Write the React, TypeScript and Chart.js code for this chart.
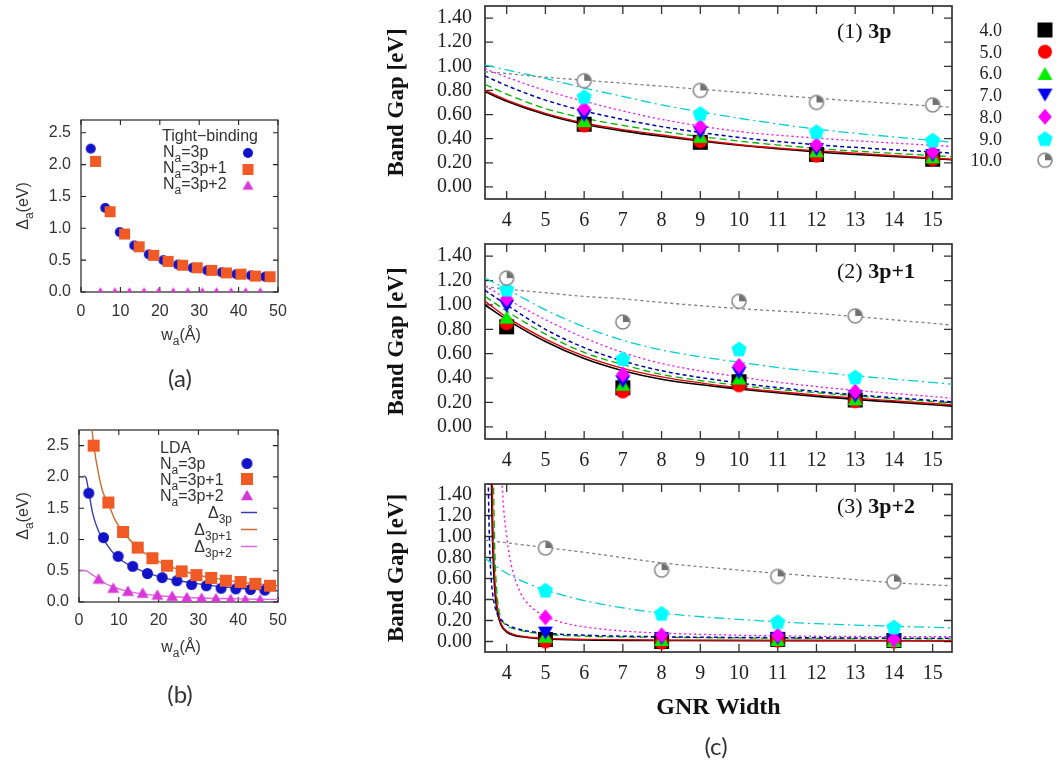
import React, { useEffect, useRef } from 'react';
import { Chart, registerables } from 'chart.js';

Chart.register(...registerables);

// ================= (a) Tight-binding =================
const A_W_3P = [2.46, 6.15, 9.84, 13.5, 17.2, 20.9, 24.6, 28.3, 32.0, 35.7, 39.4, 43.1, 46.7];
const A_GAP_3P = [2.25, 1.32, 0.94, 0.73, 0.59, 0.5, 0.43, 0.38, 0.34, 0.31, 0.28, 0.26, 0.24];
const A_W_3P1 = [3.69, 7.38, 11.07, 14.76, 18.45, 22.1, 25.8, 29.5, 33.2, 36.9, 40.6, 44.3, 48.0];
const A_GAP_3P1 = [2.05, 1.26, 0.91, 0.71, 0.575, 0.48, 0.42, 0.38, 0.34, 0.3, 0.28, 0.25, 0.24];
const A_W_3P2 = [4.92, 8.61, 12.3, 16.0, 19.7, 23.4, 27.1, 30.8, 34.4, 38.1, 41.8, 45.5];
const A_GAP_3P2 = [0, 0, 0, 0, 0, 0, 0, 0, 0, 0, 0, 0];

// ================= (b) LDA =================
const B_GAP_3P = [1.74, 1.03, 0.73, 0.57, 0.455, 0.39, 0.34, 0.28, 0.26, 0.22, 0.21, 0.2, 0.19];
const B_GAP_3P1 = [2.5, 1.59, 1.12, 0.87, 0.7, 0.58, 0.49, 0.43, 0.385, 0.34, 0.32, 0.29, 0.26];
const B_GAP_3P2 = [0.375, 0.23, 0.18, 0.15, 0.12, 0.1, 0.08, 0.07, 0.06, 0.05, 0.04, 0.04];
const B_FIT_W_3P = [1.2, 1.8, 2.46, 3.5, 5, 6.15, 8, 10, 13.5, 17, 21, 25, 30, 35, 40, 45, 50];
const B_FIT_3P = [2.02, 1.98, 1.76, 1.4, 1.12, 1.0, 0.83, 0.7, 0.56, 0.47, 0.39, 0.34, 0.29, 0.25, 0.22, 0.2, 0.18];
const B_FIT_W_3P1 = [3.1, 3.76, 5, 6, 7.38, 9, 11.07, 14.76, 18.45, 22, 26, 30, 35, 40, 45, 50];
const B_FIT_3P1 = [2.85, 2.48, 2.02, 1.76, 1.57, 1.32, 1.12, 0.87, 0.7, 0.59, 0.5, 0.43, 0.37, 0.32, 0.29, 0.26];
const B_FIT_W_3P2 = [0.4, 1.8, 3, 4.92, 6.5, 8.61, 12.3, 16, 20, 25, 30, 35, 40, 45, 50];
const B_FIT_3P2 = [0.51, 0.5, 0.45, 0.37, 0.3, 0.24, 0.17, 0.13, 0.1, 0.08, 0.065, 0.055, 0.05, 0.045, 0.04];

const AB_X_TICKS = [0, 10, 20, 30, 40, 50];
const AB_Y_TICKS = [0, 0.5, 1.0, 1.5, 2.0, 2.5];

// ================= (c) Band gap vs GNR width =================
const C_SERIES = ['4.0', '5.0', '6.0', '7.0', '8.0', '9.0', '10.0'];
const C_X_TICKS = [4, 5, 6, 7, 8, 9, 10, 11, 12, 13, 14, 15];
const C_Y_TICKS = [0, 0.2, 0.4, 0.6, 0.8, 1.0, 1.2, 1.4];

// (1) 3p
const P1_W = [6, 9, 12, 15];
const P1_GAP = [
  [0.52, 0.37, 0.27, 0.23],
  [0.51, 0.38, 0.26, 0.23],
  [0.55, 0.42, 0.3, 0.25],
  [0.59, 0.45, 0.31, 0.26],
  [0.65, 0.5, 0.35, 0.29],
  [0.75, 0.61, 0.46, 0.39],
  [0.88, 0.8, 0.7, 0.68],
];
const P1_FIT_W = [3.44, 4, 5, 6, 7, 8, 10, 12, 15.5];
const P1_FIT = [
  [0.79, 0.71, 0.6, 0.52, 0.465, 0.42, 0.345, 0.29, 0.225],
  [0.8, 0.72, 0.61, 0.53, 0.475, 0.43, 0.35, 0.3, 0.23],
  [0.85, 0.77, 0.65, 0.57, 0.51, 0.46, 0.38, 0.32, 0.25],
  [0.92, 0.84, 0.72, 0.63, 0.56, 0.5, 0.41, 0.35, 0.28],
  [0.98, 0.91, 0.8, 0.71, 0.63, 0.56, 0.46, 0.405, 0.335],
  [1.01, 0.97, 0.9, 0.82, 0.75, 0.68, 0.57, 0.48, 0.37],
  [0.955, 0.94, 0.91, 0.885, 0.86, 0.835, 0.785, 0.735, 0.66],
];

// (2) 3p+1
const P2_W = [4, 7, 10, 13];
const P2_GAP = [
  [0.82, 0.32, 0.37, 0.22],
  [0.85, 0.29, 0.34, 0.21],
  [0.9, 0.35, 0.4, 0.23],
  [0.99, 0.37, 0.44, 0.25],
  [1.05, 0.43, 0.5, 0.29],
  [1.13, 0.56, 0.64, 0.41],
  [1.22, 0.86, 1.03, 0.91],
];
const P2_FIT_W = [3.44, 4, 5, 6, 7, 8, 10, 12, 15.5];
const P2_FIT = [
  [1.0, 0.88, 0.7, 0.56, 0.46, 0.39, 0.31, 0.25, 0.17],
  [1.03, 0.9, 0.72, 0.58, 0.48, 0.41, 0.32, 0.26, 0.18],
  [1.07, 0.95, 0.76, 0.61, 0.51, 0.43, 0.34, 0.28, 0.195],
  [1.12, 1.0, 0.8, 0.65, 0.54, 0.46, 0.36, 0.29, 0.205],
  [1.16, 1.05, 0.88, 0.73, 0.61, 0.52, 0.41, 0.33, 0.235],
  [1.22, 1.13, 0.96, 0.82, 0.71, 0.63, 0.53, 0.45, 0.35],
  [1.15, 1.13, 1.1, 1.07, 1.05, 1.02, 0.97, 0.93, 0.835],
];

// (3) 3p+2
const P3_W = [5, 8, 11, 14];
const P3_GAP = [
  [0.02, 0.0, 0.02, 0.01],
  [0.0, -0.01, 0.01, 0.0],
  [0.05, 0.02, 0.02, 0.01],
  [0.08, 0.03, 0.03, 0.01],
  [0.23, 0.06, 0.06, 0.02],
  [0.49, 0.27, 0.19, 0.14],
  [0.89, 0.68, 0.62, 0.57],
];
const P3_FIT_W = [
  [3.58, 3.62, 3.66, 3.7, 3.76, 3.85, 4.0, 4.5, 5, 6, 8, 12, 15.5],
  [3.6, 3.64, 3.68, 3.72, 3.78, 3.87, 4.0, 4.5, 5, 6, 8, 12, 15.5],
  [3.64, 3.67, 3.7, 3.74, 3.8, 3.9, 4.0, 4.3, 5, 6, 8, 12, 15.5],
  [3.5, 3.53, 3.56, 3.6, 3.66, 3.75, 3.9, 4.2, 5, 6, 8, 12, 15.5],
  [3.83, 3.86, 3.9, 4.0, 4.1, 4.35, 4.6, 5, 5.5, 6, 7, 8, 10, 12, 15.5],
  [3.44, 4, 4.5, 5, 6, 7, 8, 10, 12, 14, 15.5],
  [3.44, 5, 6, 8, 10, 12, 14, 15.5],
];
const P3_FIT = [
  [2.2, 1.2, 0.7, 0.45, 0.28, 0.16, 0.09, 0.04, 0.025, 0.015, 0.01, 0.008, 0.006],
  [2.2, 1.2, 0.7, 0.45, 0.28, 0.16, 0.1, 0.045, 0.03, 0.02, 0.013, 0.01, 0.008],
  [2.2, 1.3, 0.8, 0.5, 0.3, 0.19, 0.15, 0.11, 0.07, 0.05, 0.04, 0.03, 0.025],
  [2.2, 1.4, 0.9, 0.6, 0.4, 0.27, 0.19, 0.13, 0.08, 0.06, 0.045, 0.035, 0.03],
  [2.2, 1.7, 1.38, 1.0, 0.76, 0.47, 0.34, 0.24, 0.175, 0.14, 0.1, 0.08, 0.06, 0.05, 0.045],
  [0.79, 0.65, 0.56, 0.49, 0.39, 0.32, 0.27, 0.21, 0.17, 0.145, 0.13],
  [0.965, 0.895, 0.85, 0.75, 0.68, 0.62, 0.56, 0.53],
];

// ================= styles =================
const SANS = 'Liberation Sans';
const SERIF = 'Liberation Serif';
const C_LINE_COLORS = ['#000000', '#e00000', '#00b400', '#0000b0', '#ff00ff', '#00d0d0', '#808080'];
const C_LINE_DASH = [[], [], [7, 4], [4, 3], [2, 3], [10, 4, 2, 4], [3, 3]];
const C_LINE_WIDTH = [1.6, 1.4, 1.3, 1.5, 1.3, 1.3, 1.3];

type Part = { t: string; sub?: boolean; bold?: boolean };

function drawRich(ctx: CanvasRenderingContext2D, parts: Part[], x: number, y: number,
  align: 'left' | 'center' | 'right', size: number, family: string, color: string) {
  const font = (p: Part) => `${p.bold ? 'bold ' : ''}${p.sub ? Math.round(size * 0.72) : size}px "${family}"`;
  const widths = parts.map((p) => { ctx.font = font(p); return ctx.measureText(p.t).width; });
  const total = widths.reduce((a, b) => a + b, 0);
  let cx = align === 'left' ? x : align === 'right' ? x - total : x - total / 2;
  ctx.save();
  ctx.fillStyle = color;
  ctx.textAlign = 'left';
  ctx.textBaseline = 'alphabetic';
  parts.forEach((p, i) => {
    ctx.font = font(p);
    ctx.fillText(p.t, cx, y + (p.sub ? size * 0.3 : 0));
    cx += widths[i];
  });
  ctx.restore();
}

function drawRotated(ctx: CanvasRenderingContext2D, parts: Part[], x: number, y: number, size: number, family: string, color: string) {
  ctx.save();
  ctx.translate(x, y);
  ctx.rotate(-Math.PI / 2);
  drawRich(ctx, parts, 0, 0, 'center', size, family, color);
  ctx.restore();
}

function makeMarker(shape: string, fill: string, size: number): HTMLCanvasElement {
  const c = document.createElement('canvas');
  const pad = 2;
  c.width = size + pad * 2;
  c.height = size + pad * 2;
  const g = c.getContext('2d') as CanvasRenderingContext2D;
  const cx = c.width / 2, cy = c.height / 2, r = size / 2;
  g.fillStyle = fill;
  if (shape === 'pie') {
    g.beginPath(); g.arc(cx, cy, r - 1, 0, Math.PI * 2); g.fillStyle = '#ffffff'; g.fill();
    g.beginPath(); g.moveTo(cx, cy); g.arc(cx, cy, r - 1, -Math.PI / 2, 0); g.closePath(); g.fillStyle = fill; g.fill();
    g.beginPath(); g.arc(cx, cy, r - 1, 0, Math.PI * 2); g.strokeStyle = '#8a8a8a'; g.lineWidth = 1.6; g.stroke();
    return c;
  }
  g.beginPath();
  if (shape === 'square') g.rect(cx - r, cy - r, size, size);
  else if (shape === 'circle') g.arc(cx, cy, r, 0, Math.PI * 2);
  else if (shape === 'tri' || shape === 'invtri') {
    const h = size * 0.866; const s = shape === 'tri' ? 1 : -1;
    g.moveTo(cx, cy - (s * h) / 2); g.lineTo(cx + r, cy + (s * h) / 2); g.lineTo(cx - r, cy + (s * h) / 2);
  } else if (shape === 'diamond') {
    g.moveTo(cx, cy - r); g.lineTo(cx + r * 0.85, cy); g.lineTo(cx, cy + r); g.lineTo(cx - r * 0.85, cy);
  } else if (shape === 'pentagon') {
    for (let k = 0; k < 5; k++) {
      const a = -Math.PI / 2 + (k * 2 * Math.PI) / 5;
      const px = cx + r * Math.cos(a), py = cy + r * 1.02 * Math.sin(a) + 0.8;
      if (k === 0) g.moveTo(px, py); else g.lineTo(px, py);
    }
  }
  g.closePath();
  g.fill();
  return c;
}

const pts = (xs: number[], ys: number[]) => xs.map((x, i) => ({ x, y: ys[i] }));

const lineDS = (xs: number[], ys: number[], color: string, dash: number[], width: number, order: number) => ({
  data: pts(xs, ys), showLine: true, pointRadius: 0, borderColor: color, borderWidth: width,
  borderDash: dash, cubicInterpolationMode: 'monotone', capBezierPoints: false, fill: false, order,
});
const markDS = (xs: number[], ys: number[], img: HTMLCanvasElement, order: number) => ({
  data: pts(xs, ys), showLine: false, pointStyle: img, pointRadius: 6, borderWidth: 0, order,
});

// ================= layout of the canvases =================
const BOXES = [
  { left: 0, top: 100, width: 298, height: 292, pl: 0, pt: 20, pr: 20, pb: 0, wy: 81, hx: 100 },
  { left: 0, top: 410, width: 298, height: 302, pl: 0, pt: 20, pr: 20, pb: 0, wy: 79, hx: 110 },
  { left: 380, top: -24, width: 679, height: 263, pl: 0, pt: 30, pr: 107, pb: 0, wy: 105, hx: 40 },
  { left: 380, top: 214, width: 592, height: 265, pl: 0, pt: 30, pr: 20, pb: 0, wy: 105, hx: 40 },
  { left: 380, top: 454, width: 592, height: 312, pl: 0, pt: 30, pr: 20, pb: 0, wy: 105, hx: 114 },
];

function buildChart(canvas: HTMLCanvasElement, box: any, s: any) {
  const framePlugin = {
    id: 'frame',
    beforeDatasetsDraw(chart: any) {
      const { ctx, chartArea: a, scales } = chart;
      ctx.save();
      ctx.strokeStyle = s.frameColor;
      ctx.lineWidth = s.tickWidth;
      ctx.beginPath();
      for (const t of scales.x.ticks) {
        const p = scales.x.getPixelForValue(t.value);
        ctx.moveTo(p, a.bottom); ctx.lineTo(p, a.bottom - s.tickLen);
        ctx.moveTo(p, a.top); ctx.lineTo(p, a.top + s.tickLen);
      }
      for (const t of scales.y.ticks) {
        const p = scales.y.getPixelForValue(t.value);
        ctx.moveTo(a.left, p); ctx.lineTo(a.left + s.tickLen, p);
        ctx.moveTo(a.right, p); ctx.lineTo(a.right - s.tickLen, p);
      }
      ctx.stroke();
      ctx.lineWidth = s.frameWidth;
      ctx.strokeRect(a.left, a.top, a.right - a.left, a.bottom - a.top);
      ctx.restore();
    },
    afterDraw(chart: any) {
      if (!s.annotate) return;
      const ctx = chart.ctx;
      ctx.save();
      ctx.translate(-box.left, -box.top);
      s.annotate(ctx);
      ctx.restore();
    },
  };
  const tickFont = { family: `'${s.family}'`, size: s.tickSize };
  return new Chart(canvas, {
    type: 'scatter',
    data: { datasets: s.datasets },
    options: {
      responsive: false,
      animation: false,
      devicePixelRatio: 1,
      events: [],
      layout: { padding: { left: box.pl, top: box.pt, right: box.pr, bottom: box.pb } },
      plugins: { legend: { display: false }, tooltip: { enabled: false } },
      scales: {
        x: {
          type: 'linear', position: 'bottom', min: s.xMin, max: s.xMax,
          afterBuildTicks: (sc: any) => { sc.ticks = s.xTicks.map((v: number) => ({ value: v })); },
          afterFit: (sc: any) => { sc.height = box.hx; },
          grid: { display: false, drawTicks: false, tickLength: 0 }, border: { display: false },
          ticks: { font: tickFont, color: s.tickColor, padding: s.xPad, maxRotation: 0, autoSkip: false,
            callback: (v: any) => s.xFmt(Number(v)) },
          title: s.xTitle || { display: false },
        },
        y: {
          type: 'linear', position: 'left', min: s.yMin, max: s.yMax,
          afterBuildTicks: (sc: any) => { sc.ticks = s.yTicks.map((v: number) => ({ value: v })); },
          afterFit: (sc: any) => { sc.width = box.wy; },
          grid: { display: false, drawTicks: false, tickLength: 0 }, border: { display: false },
          ticks: { font: tickFont, color: s.tickColor, padding: s.yPad, autoSkip: false,
            callback: (v: any) => s.yFmt(Number(v)) },
          title: s.yTitle || { display: false },
        },
      },
    } as any,
    plugins: [framePlugin],
  });
}

function makeSpecs() {
  // (a)/(b) markers
  const blueC = makeMarker('circle', '#1212c8', 10);
  const orangeS = makeMarker('square', '#f05a24', 11);
  const magT = makeMarker('tri', '#d838d8', 11);
  const blueCb = makeMarker('circle', '#1212c8', 11);
  const orangeSb = makeMarker('square', '#f05a24', 12);
  const magTb = makeMarker('tri', '#d838d8', 12);
  // (c) markers
  const cm = [
    makeMarker('square', '#000000', 15),
    makeMarker('circle', '#ff0000', 14),
    makeMarker('tri', '#00ee00', 15),
    makeMarker('invtri', '#0000ee', 15),
    makeMarker('diamond', '#ff00ff', 16),
    makeMarker('pentagon', '#00ffff', 16),
    makeMarker('pie', '#707070', 16),
  ];

  const abCommon = {
    family: SANS, tickSize: 16, tickColor: '#333', xMin: 0, xMax: 50,
    xTicks: AB_X_TICKS, yTicks: AB_Y_TICKS, yPad: 10,
    xFmt: (v: number) => String(v), yFmt: (v: number) => v.toFixed(1),
    frameColor: '#222', frameWidth: 1.2, tickWidth: 1.1, tickLen: 5,
  };
  const subN = (rest: string): Part[] => [{ t: 'N' }, { t: 'a', sub: true }, { t: rest }];

  const specA = {
    ...abCommon, yMin: 0, yMax: 2.7, xPad: 10,
    datasets: [
      markDS(A_W_3P, A_GAP_3P, blueC, 3),
      markDS(A_W_3P1, A_GAP_3P1, orangeS, 2),
      markDS(A_W_3P2, A_GAP_3P2, magT, 1),
    ],
    annotate: (ctx: CanvasRenderingContext2D) => {
      drawRich(ctx, [{ t: 'Tight\u2212binding' }], 162, 141, 'left', 16, SANS, '#333');
      drawRich(ctx, subN('=3p'), 163, 157, 'left', 16, SANS, '#333');
      drawRich(ctx, subN('=3p+1'), 163, 173, 'left', 16, SANS, '#333');
      drawRich(ctx, subN('=3p+2'), 163, 189, 'left', 16, SANS, '#333');
      [[blueC, 153], [orangeS, 169.5], [magT, 185]].forEach(([m, y]: any) => ctx.drawImage(m, 248 - m.width / 2, y - m.height / 2));
      drawRotated(ctx, [{ t: '\u0394' }, { t: 'a', sub: true }, { t: '(eV)' }], 28, 206, 16, SANS, '#333');
      drawRich(ctx, [{ t: 'w' }, { t: 'a', sub: true }, { t: '(\u00c5)' }], 181, 340, 'center', 16, SANS, '#333');
      drawRich(ctx, [{ t: '(a)' }], 180, 387, 'center', 24, 'Lato', '#333');
    },
  };

  const specB = {
    ...abCommon, yMin: 0, yMax: 2.75, xPad: 9,
    datasets: [
      markDS(A_W_3P, B_GAP_3P, blueCb, 3),
      markDS(A_W_3P1, B_GAP_3P1, orangeSb, 2),
      markDS(A_W_3P2, B_GAP_3P2, magTb, 1),
      lineDS(B_FIT_W_3P, B_FIT_3P, '#3c3cb0', [], 1.4, 12),
      lineDS(B_FIT_W_3P1, B_FIT_3P1, '#d06a30', [], 1.4, 11),
      lineDS(B_FIT_W_3P2, B_FIT_3P2, '#e068e0', [], 1.4, 10),
    ],
    annotate: (ctx: CanvasRenderingContext2D) => {
      drawRich(ctx, [{ t: 'LDA' }], 160, 453, 'left', 16, SANS, '#333');
      drawRich(ctx, subN('=3p'), 160, 469, 'left', 16, SANS, '#333');
      drawRich(ctx, subN('=3p+1'), 160, 485, 'left', 16, SANS, '#333');
      drawRich(ctx, subN('=3p+2'), 160, 501, 'left', 16, SANS, '#333');
      [[blueCb, 463.5], [orangeSb, 479], [magTb, 495]].forEach(([m, y]: any) => ctx.drawImage(m, 247 - m.width / 2, y - m.height / 2));
      const dl: [string, number, string][] = [['3p', 512.5, '#3c3cb0'], ['3p+1', 529.5, '#d06a30'], ['3p+2', 546.5, '#e068e0']];
      dl.forEach(([sub, y, col]) => {
        drawRich(ctx, [{ t: '\u0394' }, { t: sub, sub: true }], 232, y + 5.5, 'right', 16, SANS, '#333');
        ctx.save(); ctx.strokeStyle = col; ctx.lineWidth = 1.5; ctx.beginPath(); ctx.moveTo(241, y); ctx.lineTo(257, y); ctx.stroke(); ctx.restore();
      });
      drawRotated(ctx, [{ t: '\u0394' }, { t: 'a', sub: true }, { t: '(eV)' }], 28, 516, 16, SANS, '#333');
      drawRich(ctx, [{ t: 'w' }, { t: 'a', sub: true }, { t: '(\u00c5)' }], 181, 652, 'center', 16, SANS, '#333');
      drawRich(ctx, [{ t: '(b)' }], 180, 703, 'center', 24, 'Lato', '#333');
    },
  };

  const yTitleC = { display: true, text: 'Band Gap [eV]', color: '#111',
    font: { family: `'${SERIF}'`, size: 23, weight: 'bold' }, padding: { top: 3, bottom: 0 } };

  const cDatasets = (markW: number[], gaps: number[][], fitW: number[][], fits: number[][]) => {
    const ds: any[] = [];
    gaps.forEach((g, i) => ds.push(markDS(markW, g, cm[i], 20 - i)));
    fits.forEach((f, i) => ds.push(lineDS(fitW[i], f, C_LINE_COLORS[i], C_LINE_DASH[i], C_LINE_WIDTH[i], 100 - i)));
    return ds;
  };
  const cCommon = {
    family: SERIF, tickSize: 20, tickColor: '#222', xMin: 3.44, xMax: 15.5, yMin: -0.1, yMax: 1.5,
    xTicks: C_X_TICKS, yTicks: C_Y_TICKS, xPad: 10, yPad: 13,
    xFmt: (v: number) => String(v), yFmt: (v: number) => v.toFixed(2),
    frameColor: '#333', frameWidth: 1.7, tickWidth: 1.3, tickLen: 8, yTitle: yTitleC,
  };
  const sameW = (w: number[]) => C_SERIES.map(() => w);

  const spec1 = {
    ...cCommon,
    datasets: cDatasets(P1_W, P1_GAP, sameW(P1_FIT_W), P1_FIT),
    annotate: (ctx: CanvasRenderingContext2D) => {
      drawRich(ctx, [{ t: '(1) ' }, { t: '3p', bold: true }], 837, 37.5, 'left', 22, SERIF, '#111');
      C_SERIES.forEach((lab, i) => {
        const y = 30 + i * 21.7;
        drawRich(ctx, [{ t: lab }], 1002, y + 6, 'right', 18, SERIF, '#222');
        const m = cm[i];
        ctx.drawImage(m, 1045 - m.width / 2, y - m.height / 2);
      });
    },
  };
  const spec2 = {
    ...cCommon,
    datasets: cDatasets(P2_W, P2_GAP, sameW(P2_FIT_W), P2_FIT),
    annotate: (ctx: CanvasRenderingContext2D) => {
      drawRich(ctx, [{ t: '(2) ' }, { t: '3p+1', bold: true }], 837, 277.5, 'left', 22, SERIF, '#111');
    },
  };
  const spec3 = {
    ...cCommon,
    datasets: cDatasets(P3_W, P3_GAP, P3_FIT_W, P3_FIT),
    xTitle: { display: true, text: 'GNR Width', color: '#111',
      font: { family: `'${SERIF}'`, size: 24, weight: 'bold' }, padding: { top: 0, bottom: 43.6 } },
    annotate: (ctx: CanvasRenderingContext2D) => {
      drawRich(ctx, [{ t: '(3) ' }, { t: '3p+2', bold: true }], 837, 512.5, 'left', 22, SERIF, '#111');
      drawRich(ctx, [{ t: '(c)' }], 716, 755, 'center', 24, 'Lato', '#333');
    },
  };
  return [specA, specB, spec1, spec2, spec3];
}

export default function App() {
  const refs = useRef<(HTMLCanvasElement | null)[]>([]);
  useEffect(() => {
    const specs = makeSpecs();
    const charts = specs.map((s, i) => buildChart(refs.current[i] as HTMLCanvasElement, BOXES[i], s));
    return () => charts.forEach((c) => c.destroy());
  }, []);
  return (
    <div style={{ position: 'absolute', left: 0, top: 0, width: 1059, height: 766, background: '#ffffff', overflow: 'hidden' }}>
      {BOXES.map((b, i) => (
        <canvas
          key={i}
          ref={(el) => { refs.current[i] = el; }}
          width={b.width}
          height={b.height}
          style={{ position: 'absolute', left: b.left, top: b.top }}
        />
      ))}
    </div>
  );
}
